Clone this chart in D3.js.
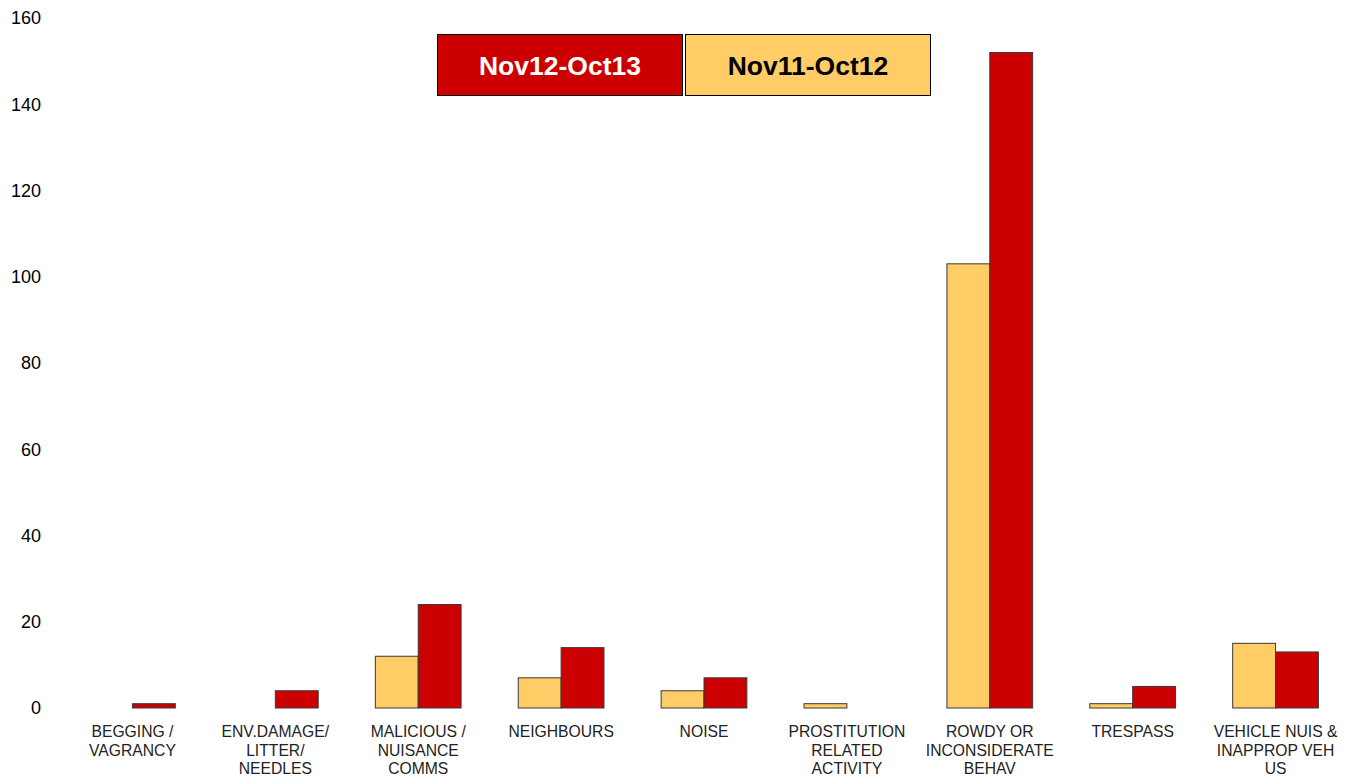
<!DOCTYPE html>
<html lang="en">
<head>
<meta charset="UTF-8">
<title>ASB categories</title>
<script src="https://d3js.org/d3.v7.min.js"></script>
<style>
  body { margin: 0; background: #fff; font-family: "Liberation Sans", Arial, sans-serif; }
  svg { display: block; }
</style>
</head>
<body>
<svg width="1347" height="777"></svg>
<script>
const categories = [
  ["BEGGING /", "VAGRANCY"],
  ["ENV.DAMAGE/", "LITTER/", "NEEDLES"],
  ["MALICIOUS /", "NUISANCE", "COMMS"],
  ["NEIGHBOURS"],
  ["NOISE"],
  ["PROSTITUTION", "RELATED", "ACTIVITY"],
  ["ROWDY OR", "INCONSIDERATE", "BEHAV"],
  ["TRESPASS"],
  ["VEHICLE NUIS &", "INAPPROP VEH", "US"]
];
const series = ["Nov11-Oct12", "Nov12-Oct13"];
const prevYear = [0, 0, 12, 7, 4, 1, 103, 1, 15];
const currYear = [1, 4, 24, 14, 7, 0, 152, 5, 13];
const yTicks = [0, 20, 40, 60, 80, 100, 120, 140, 160];
const colors = { "Nov11-Oct12": "#ffcc66", "Nov12-Oct13": "#cc0000" };

const svg = d3.select("svg");
const x0 = d3.scaleBand().domain(d3.range(categories.length)).range([61, 1347]).paddingInner(0.4).paddingOuter(0.2);
const x1 = d3.scaleBand().domain(series).range([0, x0.bandwidth()]);
const y = d3.scaleLinear().domain([0, 160]).range([708, 18]);

// y tick labels (no axis line)
svg.append("g").selectAll("text").data(yTicks).enter().append("text")
  .attr("x", 41).attr("y", d => y(d)).attr("dy", "0.35em")
  .attr("text-anchor", "end").attr("font-size", 18).attr("fill", "#000")
  .text(d => d);

// bars
const groups = svg.append("g").selectAll("g").data(categories).enter().append("g")
  .attr("transform", (d, i) => `translate(${x0(i)},0)`);

groups.each(function(d, i) {
  const vals = [prevYear[i], currYear[i]];
  d3.select(this).selectAll("rect").data(series).enter()
    .filter((s, k) => vals[k] > 0)
    .append("rect")
    .attr("x", s => x1(s))
    .attr("width", x1.bandwidth())
    .attr("y", (s) => y(vals[series.indexOf(s)]))
    .attr("height", (s) => y(0) - y(vals[series.indexOf(s)]))
    .attr("fill", s => colors[s])
    .attr("stroke", "#3a3a3a").attr("stroke-width", 1);
});

// category labels
groups.append("text")
  .attr("text-anchor", "middle").attr("font-size", 15.7).attr("fill", "#222")
  .attr("transform", `translate(${x0.bandwidth() / 2},737)`)
  .selectAll("tspan").data(d => d).enter().append("tspan")
  .attr("x", 0).attr("dy", (d, i) => i === 0 ? 0 : 18.5)
  .text(d => d);

// legend boxes
const legendItems = [
  { name: "Nov12-Oct13", x: 437, text: "#fff" },
  { name: "Nov11-Oct12", x: 685, text: "#000" }
];
const lg = svg.append("g").selectAll("g").data(legendItems).enter().append("g")
  .attr("transform", d => `translate(${d.x},34)`);
lg.append("rect").attr("x", 0.5).attr("y", 0.5).attr("width", 245).attr("height", 61)
  .attr("fill", d => colors[d.name]).attr("stroke", "#000").attr("stroke-width", 1);
lg.append("text").attr("x", 123).attr("y", 32).attr("dy", "0.35em")
  .attr("text-anchor", "middle").attr("font-size", 26.5).attr("font-weight", "bold")
  .attr("fill", d => d.text).text(d => d.name);
</script>
</body>
</html>
